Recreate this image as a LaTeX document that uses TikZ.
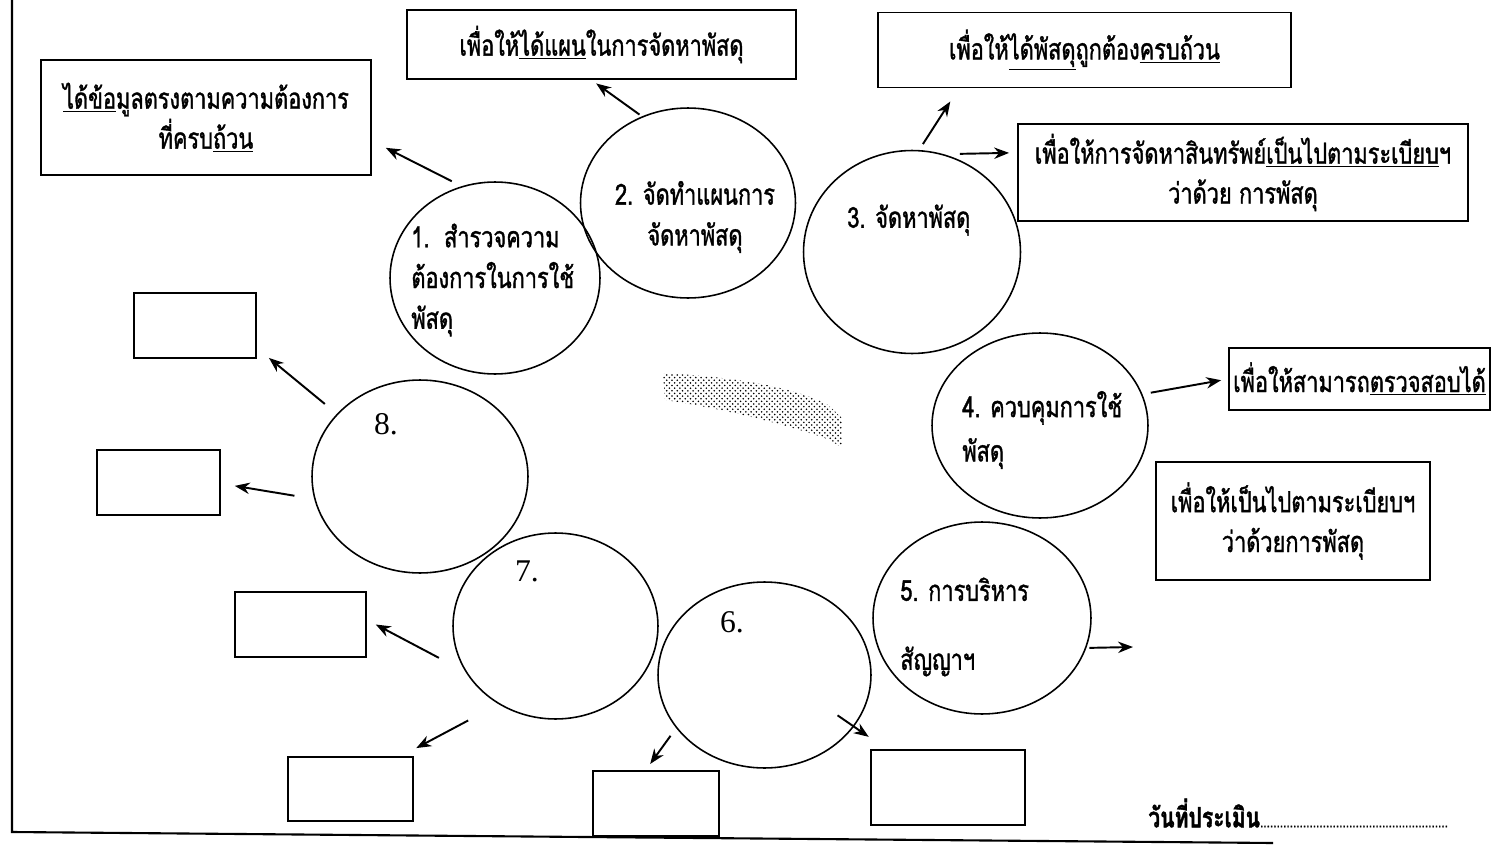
\documentclass[tikz,border=0pt]{standalone}
\usepackage{fontspec}
\setmainfont{Liberation Serif}
\newfontfamily\thai[Script=Thai,FakeStretch=0.75,FakeBold=1.2]{Loma}
\usetikzlibrary{arrows.meta,shapes.geometric,patterns}

\begin{document}
\begin{tikzpicture}[>={Stealth[length=8.5pt,width=6.5pt]}, x=0.02cm, y=-0.02cm,
                bubble/.style={ellipse, draw, line width=0.9pt, inner sep=0pt},
                goal/.style={draw, line width=1.1pt, inner sep=2pt, align=center, font=\thai\fontsize{16.5}{22.7}\selectfont},
                blank/.style={draw, line width=1.1pt, inner sep=0pt},
                lbl/.style={inner sep=0pt, align=left, font=\thai\fontsize{16.5}{23.2}\selectfont},
                num/.style={inner sep=0pt, font=\fontsize{18}{20}\selectfont},
                arr/.style={->, line width=1.1pt}]
                \useasboundingbox (0,0) rectangle (1492,852);
                \draw [line width=1.2pt] (12,0) -- (12,832) -- (1273,843);
                \node [bubble, minimum width=4.2cm, minimum height=3.84cm] (e1) at (495,278) {};
                \node [bubble, minimum width=4.3cm, minimum height=3.8cm] (e2) at (688,203) {};
                \node [bubble, minimum width=4.34cm, minimum height=4.06cm] (e3) at (912,252) {};
                \node [bubble, minimum width=4.32cm, minimum height=3.7cm] (e4) at (1040,425.5) {};
                \node [bubble, minimum width=4.36cm, minimum height=3.84cm] (e5) at (982,618) {};
                \node [bubble, minimum width=4.26cm, minimum height=3.72cm] (e6) at (764.5,675) {};
                \node [bubble, minimum width=4.1cm, minimum height=3.72cm] (e7) at (555.5,626) {};
                \node [bubble, minimum width=4.32cm, minimum height=3.86cm] (e8) at (420,476.5) {};
                \node [lbl, anchor=west] (t1) at (411,280) {1.\ \ สำรวจความ\\ต้องการในการใช้\\พัสดุ};
                \node [lbl, align=center] (t2) at (695,217) {2. จัดทำแผนการ\\จัดหาพัสดุ};
                \node [lbl, anchor=west] (t3) at (847,220) {3. จัดหาพัสดุ};
                \node [lbl, anchor=west] (t4) at (962,430) {4. ควบคุมการใช้\\[2pt]พัสดุ};
                \node [lbl, anchor=west] (t5) at (900,627) {5. การบริหาร\\[16pt]สัญญาฯ};
                \node [num] (t6) at (732,622) {6.};
                \node [num] (t7) at (527,571) {7.};
                \node [num] (t8) at (386,424) {8.};
                \node [goal, minimum width=6.6cm, minimum height=2.3cm] (b1) at (206,117.5) {\underline{ได้ข้อ}มูลตรงตามความต้องการ\\ที่ครบ\underline{ถ้วน}};
                \node [goal, minimum width=7.78cm, minimum height=1.38cm] (b2) at (601.5,44.5) {เพื่อให้\underline{ได้แผน}ในการจัดหาพัสดุ};
                \node [goal, minimum width=8.26cm, minimum height=1.5cm] (b3a) at (1084.5,50) {เพื่อให้\underline{ได้พัสดุ}ถูกต้อง\underline{ครบถ้วน}};
                \node [goal, minimum width=9cm, minimum height=1.94cm] (b3b) at (1243,172.5) {เพื่อให้การจัดหาสินทรัพย์\underline{เป็นไปตามระเบียบ}ฯ\\ว่าด้วย การพัสดุ};
                \node [goal, minimum width=5.22cm, minimum height=1.24cm] (b4) at (1359.5,379) {เพื่อให้สามารถ\underline{ตรวจสอบได้}};
                \node [goal, minimum width=5.48cm, minimum height=2.36cm] (b5) at (1293,521) {เพื่อให้เป็นไปตามระเบียบฯ\\ว่าด้วยการพัสดุ};
                \node [blank, minimum width=2.44cm, minimum height=1.3cm] (b8a) at (195,325.5) {};
                \node [blank, minimum width=2.46cm, minimum height=1.3cm] (b8b) at (158.5,482.5) {};
                \node [blank, minimum width=2.62cm, minimum height=1.3cm] (b7a) at (300.5,624.5) {};
                \node [blank, minimum width=2.5cm, minimum height=1.28cm] (b7b) at (350.5,789) {};
                \node [blank, minimum width=2.52cm, minimum height=1.3cm] (b6a) at (656,803.5) {};
                \node [blank, minimum width=3.08cm, minimum height=1.5cm] (b6b) at (948,787.5) {};
                \coordinate (x5) at (1133,647);
                \draw [arr, shorten <=0.22cm, shorten >=0.31cm] (e1.110) -- (b1.-8);
                \draw [arr, shorten <=0.06cm, shorten >=0.12cm] (e2.118) -- (b2.-106);
                \draw [arr, shorten <=0.14cm, shorten >=0.31cm] (e3.86) -- (b3a.-163);
                \draw [arr, shorten <=0.32cm, shorten >=0.16cm] (e3.72) -- (b3b.175.6);
                \draw [arr, shorten <=0.17cm, shorten >=0.14cm] (e4.17) -- (b4.180);
                \draw [arr, shorten <=0.06cm] (e5.-16) -- (x5);
                \draw [arr, shorten <=-0.4cm, shorten >=0.43cm] (e6.-30) -- (b6b.148);
                \draw [arr, shorten <=0.19cm, shorten >=0.15cm] (e6.-149) -- (b6a.107);
                \draw [arr, shorten <=0.6cm, shorten >=0.2cm] (e7.-153.5) -- (b7a.4.5);
                \draw [arr, shorten <=0.69cm, shorten >=0.34cm] (e7.-126) -- (b7b.33.5);
                \draw [arr, shorten <=0.4cm, shorten >=0.28cm] (e8.-168.5) -- (b8b.-1.3);
                \draw [arr, shorten <=0.31cm, shorten >=0.31cm] (e8.143) -- (b8a.-20);
                \fill [pattern=crosshatch dots, pattern color=black] (663,373) .. controls (750,378) and (800,390) .. (828,405) -- (842,418) -- (842,448) -- (830,440) .. controls (790,425) and (720,408) .. (665,400) -- cycle;
                \node [anchor=west, inner sep=0pt, font=\thai\bfseries\fontsize{16}{18}\selectfont] (date) at (1148,813) {วันที่ประเมิน{\mdseries\fontsize{9}{10}\selectfont .........................................................}};
            \end{tikzpicture}
\end{document}
